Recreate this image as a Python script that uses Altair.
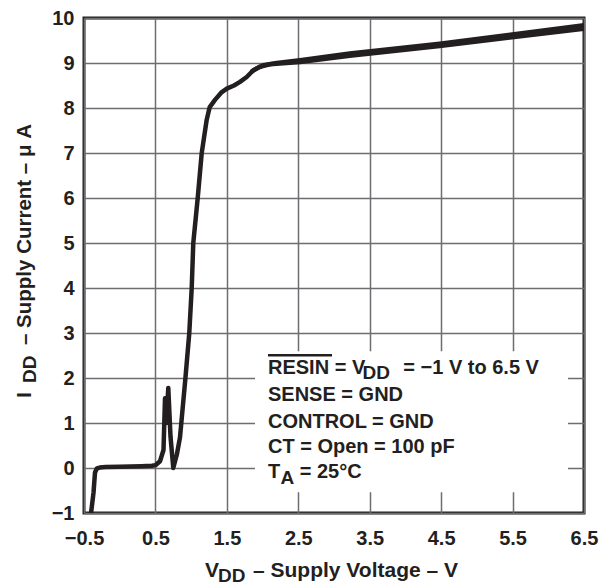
import altair as alt
import pandas as pd

INK = "#231f20"
GRID = "#6d6e71"
FONT = "Liberation Sans"

# Main sweep: V_DD (V) and I_DD (uA)
v_up = [-0.405, -0.367, -0.346, -0.32, -0.28, -0.20, 0.0, 0.30, 0.45, 0.50, 0.564, 0.613,
        0.634, 0.652, 0.68, 0.711, 0.75, 0.80, 0.844, 0.92, 0.974, 1.008, 1.03, 1.092,
        1.148, 1.218, 1.26, 1.334, 1.42, 1.50, 1.60, 1.684, 1.778, 1.87, 2.01, 2.2, 2.524,
        3.22, 4.48, 6.5]
i_up = [-1.05, -0.55, -0.1, -0.01, 0.01, 0.02, 0.03, 0.04, 0.05, 0.06, 0.15, 0.4,
        1.55, 1.0, 1.78, 0.7, 0.0, 0.3, 0.68, 2.0, 3.0, 4.0, 5.0, 6.0,
        7.0, 7.74, 8.02, 8.18, 8.34, 8.43, 8.5, 8.58, 8.69, 8.84, 8.95, 9.0, 9.06,
        9.21, 9.43, 9.84]
# Return sweep (overlaps upper branch)
v_down = [1.84, 1.95, 2.1, 2.524, 3.22, 4.48, 6.5]
i_down = [8.8, 8.91, 8.97, 9.02, 9.16, 9.38, 9.76]

x_ticks = [-0.5, 0.5, 1.5, 2.5, 3.5, 4.5, 5.5, 6.5]
y_ticks = [-1, 0, 1, 2, 3, 4, 5, 6, 7, 8, 9, 10]

note_lines = ["SENSE = GND", "CONTROL = GND", "CT = Open = 100 pF"]

df = pd.DataFrame({
    "v": v_up + v_down,
    "i": i_up + i_down,
    "sweep": ["up"] * len(v_up) + ["down"] * len(v_down),
    "order": list(range(len(v_up))) + list(range(len(v_down))),
})

xaxis = alt.Axis(values=x_ticks, title=None, grid=True, ticks=False, domain=False,
                 format=".1f", labelFont=FONT, labelFontSize=20, labelFontWeight="bold",
                 labelColor=INK, labelPadding=15, labelFlush=False, gridColor=GRID,
                 gridWidth=1.5, gridOpacity=1)
yaxis = alt.Axis(values=y_ticks, title=None, grid=True, ticks=False, domain=False,
                 format="d", labelFont=FONT, labelFontSize=20, labelFontWeight="bold",
                 labelColor=INK, labelPadding=10, labelFlush=False, gridColor=GRID,
                 gridWidth=1.5, gridOpacity=1)

line = alt.Chart(df).mark_line(color=INK, strokeWidth=4.5, strokeJoin="round",
                               clip=True).encode(
    x=alt.X("v:Q", scale=alt.Scale(domain=[-0.5, 6.5], nice=False, zero=False), axis=xaxis),
    y=alt.Y("i:Q", scale=alt.Scale(domain=[-1, 10], nice=False, zero=False), axis=yaxis),
    detail="sweep:N",
    order="order:Q",
)

one = alt.Data(values=[{}])


def dtext(s, x, y, size=20, dy=0):
    return alt.Chart(one).mark_text(
        text=s, font=FONT, fontSize=size, fontWeight="bold", color=INK,
        align="left", baseline="alphabetic", dy=dy
    ).encode(x=alt.XDatum(x), y=alt.YDatum(y))


def ptext(s, x, y, size=21, dy=0, angle=0):
    kw = dict(text=s, font=FONT, fontSize=size, fontWeight="bold", color=INK,
              align="left", baseline="alphabetic", dy=dy)
    if angle:
        kw["angle"] = angle
    return alt.Chart(one).mark_text(**kw).encode(x=alt.value(x), y=alt.value(y))


box = alt.Chart(one).mark_rect(fill="white", strokeWidth=0).encode(
    x=alt.XDatum(1.894), x2=alt.X2Datum(6.276),
    y=alt.YDatum(2.593), y2=alt.Y2Datum(-0.538),
)

ann = [
    dtext("RESIN = V", 2.076, 2.086),
    dtext("DD", 3.40, 2.086, size=19, dy=5),
    dtext("= \u22121 V to 6.5 V", 3.97, 2.086),
    dtext(note_lines[0], 2.076, 1.49),
    dtext(note_lines[1], 2.076, 0.895),
    dtext(note_lines[2], 2.076, 0.344),
    dtext("T", 2.076, -0.229),
    dtext("A", 2.25, -0.229, size=19, dy=6),
    dtext("= 25\u00b0C", 2.52, -0.229),
]

overline = alt.Chart(one).mark_rule(color=INK, strokeWidth=2.5).encode(
    x=alt.XDatum(2.076), x2=alt.X2Datum(2.972), y=alt.YDatum(2.504)
)

titles = [
    ptext("V", 121, 559),
    ptext("DD", 134, 559, size=19, dy=5),
    ptext("\u2013 Supply Voltage \u2013 V", 169, 559),
    ptext("I", -53, 380, angle=270),
    ptext("DD", -53, 365, size=19, dy=5, angle=270),
    ptext("\u2013 Supply Current \u2013 \u03bc A", -53, 327, size=20.5, angle=270),
]

chart = alt.layer(line, box, overline, *ann, *titles).properties(
    width=500, height=495,
    padding={"left": 76, "top": 10, "right": 18, "bottom": 72},
    autosize=alt.AutoSizeParams(type="none"),
    background="white",
).configure_view(stroke=INK, strokeWidth=3)

chart.save("out.html", embed_options={"renderer": "svg", "actions": False})
